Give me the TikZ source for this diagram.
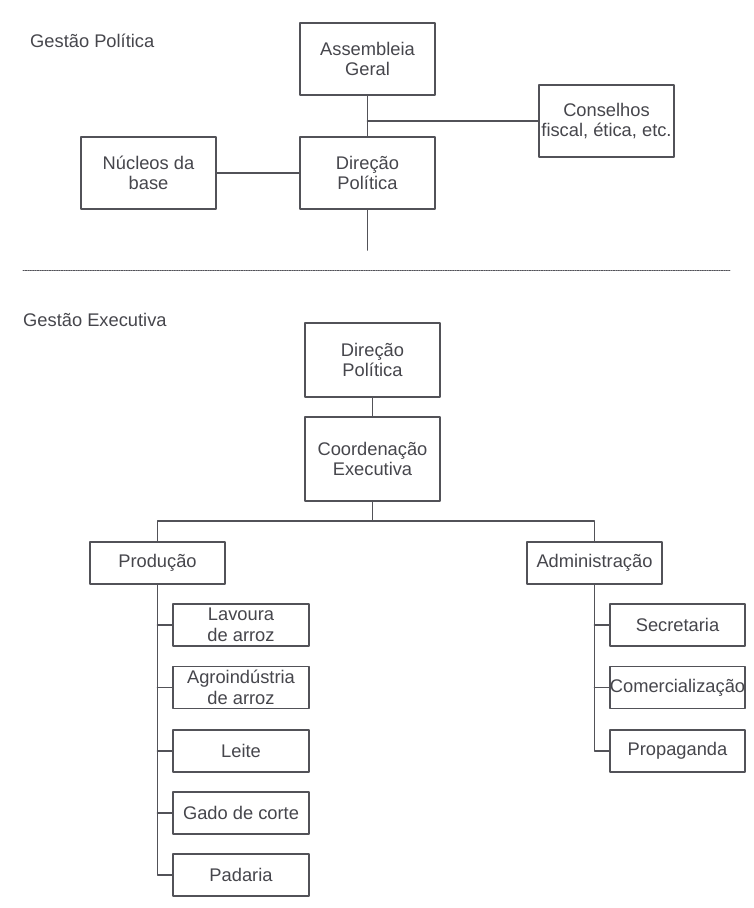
\documentclass[tikz,border=0pt]{standalone}
\usepackage{fontspec}
\setmainfont{Liberation Sans}
\usetikzlibrary{positioning}
\definecolor{traco}{RGB}{82,82,88}
\definecolor{texto}{RGB}{70,70,76}

\begin{document}
\begin{tikzpicture}[x=1pt,y=-1pt,line cap=round,line join=round,
  caixa/.style={draw=traco,line width=1.8pt,fill=white,text=texto,align=center,
    minimum width=135pt,inner sep=0pt,font=\fontsize{18.3}{20.5}\selectfont},
  alta/.style={caixa,minimum height=72pt},
  baixa/.style={caixa,minimum height=42pt},
  liga/.style={draw=traco,line width=1.8pt},
  titulo/.style={anchor=west,inner sep=0pt,text=texto,font=\fontsize{18.3}{20.5}\selectfont}]
\useasboundingbox (0,0) rectangle (753,908);
% Gestao politica
\node[titulo] (tpol) at (30,41) {Gestão Política};
\node[alta] (assembleia) at (367.5,59) {Assembleia\\Geral};
\node[alta] (conselhos) at (606.5,121) {Conselhos\\fiscal, ética, etc.};
\node[alta] (nucleos) at (148.5,173) {Núcleos da\\base};
\node[alta] (direcao) at (367.5,173) {Direção\\Política};
\coordinate (desce) at (367.5,250);
\draw[liga] (assembleia) -- (direcao);
\draw[liga] (conselhos.west) -- (conselhos.west -| assembleia.south);
\draw[liga] (nucleos) -- (direcao);
\draw[liga] (direcao) -- (desce);
\draw[traco,line width=1pt,dash pattern=on 1.2pt off 1.2pt] (23,270) -- (730,270);
% Gestao executiva
\node[titulo] (texe) at (23,320) {Gestão Executiva};
\node[caixa,minimum height=74pt] (direcao2) at (372.5,360) {Direção\\Política};
\node[caixa,minimum height=84pt] (coordenacao) at (372.5,459) {Coordenação\\Executiva};
\node[baixa] (producao) at (157.5,563) {Produção};
\node[baixa] (administracao) at (594.5,563) {Administração};
\coordinate (ramo) at (372.5,521);
\draw[liga] (direcao2) -- (coordenacao);
\draw[liga] (coordenacao) -- (ramo);
\draw[liga] (producao.north) |- (ramo) -| (administracao.north);
% setores da producao
\node[baixa,minimum width=136pt] (lavoura) at (241,625) {Lavoura\\de arroz};
\node[baixa,minimum width=136pt] (agro) at (241,687.5) {Agroindústria\\de arroz};
\node[baixa,minimum width=136pt] (leite) at (241,751) {Leite};
\node[baixa,minimum width=136pt] (gado) at (241,813) {Gado de corte};
\node[baixa,minimum width=136pt] (padaria) at (241,875) {Padaria};
\draw[liga] (producao.south) |- (padaria.west);
\foreach \s in {lavoura,agro,leite,gado}
  \draw[liga] (\s.west) -- (\s.west -| producao.south);
% setores da administracao
\node[baixa] (secretaria) at (677.5,625) {Secretaria};
\node[baixa] (comercio) at (677.5,687.5) {Comercialização};
\node[baixa] (propaganda) at (677.5,751) {Propaganda};
\draw[liga] (administracao.south) |- (propaganda.west);
\foreach \s in {secretaria,comercio}
  \draw[liga] (\s.west) -- (\s.west -| administracao.south);
\end{tikzpicture}
\end{document}
